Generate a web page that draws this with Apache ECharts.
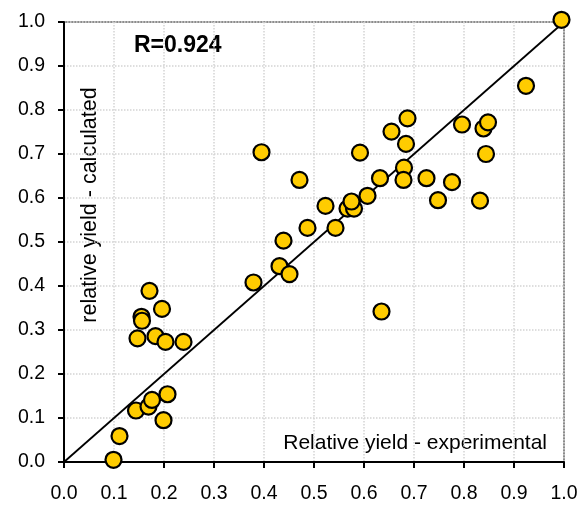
<!DOCTYPE html>
<html><head><meta charset="utf-8">
<script src="https://cdn.jsdelivr.net/npm/echarts@6/dist/echarts.min.js"></script>
<style>html,body{margin:0;padding:0;background:#fff}#c{width:588px;height:506px}</style>
</head><body><div id="c"></div>
<script>
const experimental = [0.099,0.111,0.144,0.169,0.176,0.207,0.199,0.147,0.183,0.203,0.239,0.155,0.156,0.171,0.196,0.379,0.431,0.451,0.439,0.487,0.543,0.523,0.395,0.471,0.567,0.580,0.575,0.607,0.592,0.632,0.635,0.655,0.687,0.684,0.680,0.679,0.725,0.748,0.776,0.796,0.832,0.839,0.848,0.844,0.924,0.995];
const calculated   = [0.005,0.059,0.117,0.126,0.141,0.154,0.095,0.281,0.286,0.273,0.273,0.330,0.321,0.389,0.348,0.408,0.445,0.427,0.503,0.532,0.532,0.582,0.704,0.641,0.576,0.576,0.592,0.605,0.703,0.645,0.342,0.751,0.781,0.723,0.669,0.641,0.645,0.595,0.636,0.767,0.594,0.758,0.772,0.700,0.855,1.005];
const identityLine = [[0,0],[1,1]];
const rLabel = 'R=0.924';
const xName = 'Relative yield - experimental';
const yName = 'relative yield - calculated';

const points = experimental.map((x,i)=>[x, calculated[i]]);
const font = 'Liberation Sans, Arial, sans-serif';
const chart = echarts.init(document.getElementById('c'), null, {renderer:'canvas'});
chart.setOption({
  animation:false,
  backgroundColor:'#fff',
  grid:{left:64, top:22, width:500, height:440, show:true, borderColor:'#8c8c8c', borderWidth:2, backgroundColor:'transparent'},
  xAxis:{type:'value', min:0, max:1, interval:0.1,
    axisLine:{show:true, onZero:false, lineStyle:{color:'#000', width:2}},
    axisTick:{show:true, inside:false, length:6, lineStyle:{color:'#000', width:2}},
    axisLabel:{color:'#000', fontSize:19.5, fontFamily:font, margin:22, formatter:v=>v.toFixed(1)},
    splitLine:{show:true, lineStyle:{color:'#d4d4d4', type:'dotted', width:1.5}}
  },
  yAxis:{type:'value', min:0, max:1, interval:0.1,
    axisLine:{show:true, onZero:false, lineStyle:{color:'#000', width:2}},
    axisTick:{show:true, inside:false, length:6, lineStyle:{color:'#000', width:2}},
    axisLabel:{color:'#000', fontSize:19.5, fontFamily:font, margin:19, formatter:v=>v.toFixed(1)},
    splitLine:{show:true, lineStyle:{color:'#d4d4d4', type:'dotted', width:1.5}}
  },
  graphic:[
    {type:'text', x:134, y:46, style:{text:rLabel, font:'bold 23px '+font, fill:'#000', verticalAlign:'middle'}},
    {type:'text', x:90, y:205, rotation:Math.PI/2, style:{text:yName, font:'21.5px '+font, fill:'#000', align:'center', verticalAlign:'middle'}},
    {type:'text', x:547, y:443, style:{text:xName, font:'21px '+font, fill:'#000', align:'right', verticalAlign:'middle'}}
  ],
  series:[
    {type:'line', data:identityLine, symbol:'none', lineStyle:{color:'#000', width:1.8}, z:2},
    {type:'scatter', data:points, symbol:'circle', symbolSize:16, clip:false,
     itemStyle:{color:'#FFCC00', borderColor:'#000', borderWidth:2.2, opacity:1}, z:3}
  ]
});
</script></body></html>
